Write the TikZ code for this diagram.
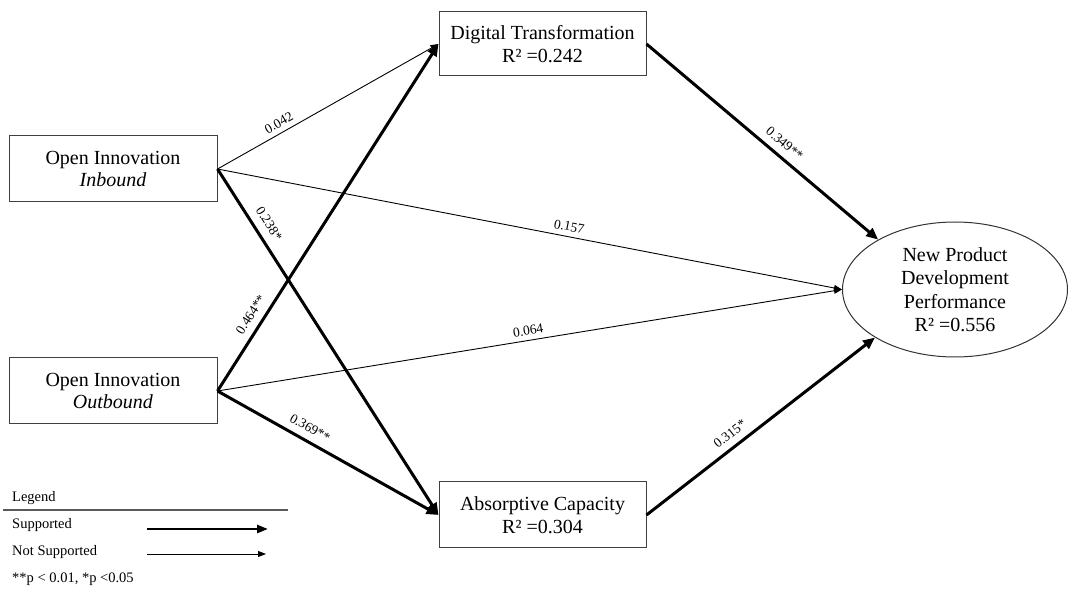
\documentclass[tikz,border=0pt]{standalone}
\usepackage{fontspec}
\setmainfont{Liberation Serif}
\usetikzlibrary{arrows.meta,shapes.geometric}
\begin{document}
\begin{tikzpicture}[x=1pt,y=-1pt,
  box/.style={draw=black!75, line width=1pt, minimum width=208pt, minimum height=66pt, inner sep=0pt, align=center, font=\fontsize{20}{22.5}\selectfont},
  supp/.style={line width=3pt, -{Triangle[length=12pt,width=10pt]}},
  nsupp/.style={line width=0.9pt, -{Triangle[length=8pt,width=6pt]}},
  lab/.style={font=\fontsize{13.5}{15}\selectfont, sloped, inner sep=2pt},
  legfont/.style={font=\fontsize{14.5}{16}\selectfont, anchor=west, inner sep=0pt}
]
\useasboundingbox (0,0) rectangle (1072,593);

\node[box] (in) at (113,169) {Open Innovation\\\textit{Inbound}};
\node[box] (out) at (113,391) {Open Innovation\\\textit{Outbound}};
\node[box, minimum width=207pt, minimum height=64pt] (dt) at (542.5,44) {Digital Transformation\\R² =0.242};
\node[box, minimum width=207pt] (ac) at (542.5,515) {Absorptive Capacity\\R² =0.304};
\node[ellipse, draw=black!80, line width=1pt, minimum width=225pt, minimum height=135pt, inner sep=0pt, align=center, font=\fontsize{20}{23.5}\selectfont] (npd) at (955,289.5) {New Product\\Development\\Performance\\R² =0.556};

\draw[nsupp] (in.east) -- node[lab, pos=0.3, above=3pt] {0.042} (dt.west);
\draw[supp] (out.east) -- node[lab, pos=0.2, above=5pt] {0.464**} (dt.west);
\draw[supp] (in.east) -- node[lab, pos=0.18, above=6pt] {0.238*} (ac.west);
\draw[supp] (out.east) -- node[lab, pos=0.39, above=5pt] {0.369**} (ac.west);
\draw[nsupp] (in.east) -- node[lab, pos=0.56, above=3pt] {0.157} (npd.west);
\draw[nsupp] (out.east) -- node[lab, pos=0.5, above=3pt] {0.064} (npd.west);
\draw[supp] (dt.east) -- node[lab, pos=0.56, above=5pt] {0.349**} (npd.147);
\draw[supp] (ac.east) -- node[lab, pos=0.4, above=5pt] {0.315*} (npd.211);

% legend
\node[legfont] (legt) at (12,498) {Legend};
\coordinate (l1) at (3,510);
\coordinate (l2) at (288,510);
\draw[black!65, line width=1.3pt] (l1) -- (l2);
\node[legfont] (legs) at (12,525) {Supported};
\node[legfont] (legn) at (12,552) {Not Supported};
\node[legfont] (legp) at (12,579) {**p < 0.01, *p <0.05};
\coordinate (s1) at (147,529);
\coordinate (s2) at (268,529);
\draw[line width=2.6pt, -{Triangle[length=11pt,width=8pt]}] (s1) -- (s2);
\coordinate (n1) at (147,554);
\coordinate (n2) at (266,554);
\draw[nsupp] (n1) -- (n2);
\end{tikzpicture}
\end{document}
